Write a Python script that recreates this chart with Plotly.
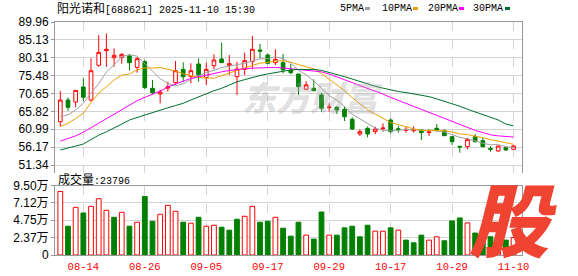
import plotly.graph_objects as go

# ---------------- data ----------------
dates = ["08-11","08-12","08-13","08-14","08-15","08-18","08-19","08-20","08-21","08-22",
         "08-25","08-26","08-27","08-28","08-29","09-01","09-02","09-03","09-04","09-05",
         "09-08","09-09","09-10","09-11","09-12","09-15","09-16","09-17","09-18","09-19",
         "09-22","09-23","09-24","09-25","09-26","09-29","09-30","10-09","10-10","10-13",
         "10-14","10-15","10-16","10-17","10-20","10-21","10-22","10-23","10-24","10-27",
         "10-28","10-29","10-30","10-31","11-03","11-04","11-05","11-06","11-07","11-10"]

opens = [63.03, 68.89, 68.35, 72.41, 68.89, 78.26, 82.20, 80.30, 80.43, 80.78,
         77.72, 79.24, 72.05, 70.52, 72.10, 73.57, 77.17, 75.19, 78.62, 75.00,
         78.16, 79.97, 78.26, 75.19, 77.17, 79.24, 82.40, 81.05, 78.98, 78.98,
         77.00, 75.92, 71.80, 72.05, 70.25, 66.80, 66.92, 66.38, 63.68, 59.71,
         61.25, 60.34, 61.20, 63.49, 61.10, 60.70, 60.60, 60.80, 60.10, 61.25,
         60.61, 59.00, 56.40, 56.29, 59.00, 57.91, 55.80, 55.12, 56.02, 55.57]
highs = [71.32, 69.62, 71.50, 74.75, 80.16, 86.45, 86.90, 82.86, 81.50, 81.32,
         80.43, 79.70, 74.30, 71.60, 73.84, 79.43, 79.07, 78.80, 80.16, 78.98,
         81.23, 84.37, 81.05, 79.24, 81.67, 86.18, 84.02, 81.50, 82.59, 81.32,
         78.62, 75.92, 74.00, 74.48, 70.87, 68.00, 67.28, 67.10, 64.20, 60.98,
         61.69, 61.69, 62.60, 63.95, 61.96, 61.69, 61.80, 60.80, 60.98, 62.41,
         60.98, 59.00, 56.47, 58.72, 59.71, 58.72, 56.47, 56.47, 56.29, 56.74]
lows = [61.69, 66.00, 66.92, 68.62, 68.44, 77.89, 77.89, 77.89, 78.70, 76.81,
        76.27, 71.78, 70.52, 68.00, 71.14, 72.95, 73.76, 73.40, 73.84, 72.95,
        77.17, 78.98, 75.65, 70.25, 75.65, 77.17, 80.16, 78.53, 78.35, 76.10,
        75.83, 70.25, 71.80, 71.41, 65.74, 65.74, 65.11, 63.22, 60.80, 59.17,
        58.82, 59.71, 60.34, 59.90, 60.07, 60.07, 60.10, 58.09, 59.17, 60.34,
        59.26, 56.74, 54.67, 55.57, 57.37, 56.11, 54.94, 54.94, 55.21, 55.57]
closes = [68.89, 66.92, 71.50, 69.62, 76.81, 81.77, 82.60, 80.96, 81.23, 78.98,
          80.05, 72.23, 70.87, 71.05, 72.50, 76.81, 75.19, 76.81, 75.65, 77.17,
          79.70, 78.98, 78.70, 77.27, 79.51, 82.59, 82.10, 78.80, 79.88, 77.00,
          76.27, 72.50, 73.00, 71.41, 66.65, 67.00, 66.20, 64.38, 61.06, 60.34,
          59.71, 61.06, 61.30, 60.34, 61.00, 60.95, 60.85, 60.10, 60.25, 60.80,
          59.26, 57.64, 56.20, 58.27, 57.64, 56.29, 55.60, 56.47, 55.39, 56.47]
volumes = [86850, 39350, 65140, 57430, 66500, 76900, 61070, 51570, 58350, 39350,
           44780, 80060, 46140, 55640, 67850, 59710, 44780, 43420, 51570, 39350,
           40710, 38000, 33930, 48850, 52920, 66500, 44780, 46140, 51570, 36640,
           25780, 44780, 27140, 21710, 58800, 27140, 27140, 37100, 39350, 24880,
           40710, 32570, 32570, 37100, 33930, 20360, 16700, 27140, 20360, 24880,
           19450, 46600, 50660, 43860, 30000, 24880, 24880, 22000, 20360, 23796]

ma5 = [64.40, 64.90, 66.20, 68.00, 70.75, 73.32, 76.46, 78.35, 80.67, 81.11,
       80.76, 78.69, 76.67, 74.64, 73.34, 72.69, 73.28, 74.47, 75.39, 76.33,
       76.90, 77.66, 78.04, 78.36, 78.83, 79.41, 80.03, 80.05, 80.58, 80.07,
       78.81, 76.89, 75.73, 74.04, 71.97, 70.11, 68.85, 67.13, 65.06, 63.80,
       62.34, 61.31, 60.69, 60.55, 60.68, 60.93, 60.89, 60.65, 60.63, 60.59,
       60.25, 59.61, 58.83, 58.43, 57.80, 57.21, 56.80, 56.85, 56.28, 56.04]
ma10 = [61.70, 62.60, 63.90, 65.30, 68.20, 70.70, 72.50, 74.30, 75.60, 75.93,
        77.04, 77.58, 77.51, 77.66, 77.22, 76.73, 75.99, 75.57, 75.01, 74.83,
        74.80, 75.47, 76.26, 76.88, 77.58, 78.16, 78.85, 79.05, 79.47, 79.45,
        79.11, 78.46, 77.89, 77.31, 76.02, 74.46, 72.87, 71.43, 69.55, 67.88,
        66.23, 65.08, 63.91, 62.80, 62.24, 61.63, 61.10, 60.67, 60.59, 60.64,
        60.59, 60.25, 59.74, 59.53, 59.20, 58.73, 58.21, 57.84, 57.36, 56.92]
ma20 = [57.80, 58.50, 59.20, 60.20, 61.40, 62.60, 63.90, 65.10, 66.40, 67.60,
        68.70, 69.60, 70.40, 71.30, 72.40, 73.30, 74.00, 74.70, 75.20, 75.70,
        76.10, 76.50, 76.85, 77.15, 77.35, 77.50, 77.60, 77.70, 77.70, 77.55,
        77.35, 77.10, 77.00, 76.90, 76.50, 75.90, 75.20, 74.40, 73.60, 72.80,
        72.10, 71.30, 70.50, 69.60, 68.80, 68.00, 67.20, 66.20, 65.50, 64.80,
        63.80, 63.00, 62.30, 61.40, 60.70, 60.10, 59.50, 59.20, 59.00, 58.90]
ma30 = [55.40, 55.90, 56.40, 57.00, 58.20, 59.40, 60.30, 61.25, 62.40, 63.50,
        64.20, 64.85, 65.50, 66.20, 66.80, 67.40, 68.00, 68.90, 69.80, 70.70,
        71.40, 72.05, 72.90, 73.80, 74.40, 75.00, 75.50, 75.95, 76.35, 76.75,
        77.00, 77.15, 77.20, 77.15, 76.90, 76.40, 75.80, 75.20, 74.56, 73.87,
        73.18, 72.60, 72.10, 71.60, 71.20, 70.90, 70.60, 70.20, 69.80, 69.20,
        68.60, 67.90, 67.20, 66.40, 65.70, 64.90, 64.30, 63.50, 62.40, 61.90]

price_ticks = [51.34, 56.17, 60.99, 65.82, 70.65, 75.48, 80.31, 85.13, 89.96]
vol_ticks = [0, 23750, 47500, 71250, 95000]
vol_tick_text = ["0", "2.37万", "4.75万", "7.12万", "9.50万"]
x_labels = ["08-14", "08-26", "09-05", "09-17", "09-29", "10-17", "10-29", "11-10"]
stock_title = "阳光诺和"
stock_rest = "[688621] 2025-11-10 15:30"
ma_names = ["5PMA", "10PMA", "20PMA", "30PMA"]

# ---------------- styles ----------------
RED = "#ff0000"
GREEN = "#008000"
MA_COLORS = ["#a0a0a0", "#f0a000", "#ff00ff", "#00702e"]
GRID = "#d4d4d4"
BORDER = "#999999"

# page geometry (pixels) used for layout placement only
W, H = 578, 276
L, R, T, B = 55, 56, 22, 21
PW, PH = W - L - R, H - T - B


def px(xp):
    return (xp - L) / PW


def py(yp):
    return (H - B - yp) / PH


# volume colours: up vs previous close
up = []
for i, c in enumerate(closes):
    ref = closes[i - 1] if i > 0 else opens[0]
    up.append(c >= ref)
vol_fill = ["#ffffff" if u else GREEN for u in up]
vol_line = [RED if u else GREEN for u in up]

fig = go.Figure()

fig.add_trace(go.Candlestick(
    x=dates, open=opens, high=highs, low=lows, close=closes,
    increasing=dict(line=dict(color=RED, width=1), fillcolor="#ffffff"),
    decreasing=dict(line=dict(color=GREEN, width=1), fillcolor=GREEN),
    whiskerwidth=0, xaxis="x", yaxis="y", hoverinfo="skip", showlegend=False))

for name, vals, col in zip(ma_names, [ma5, ma10, ma20, ma30], MA_COLORS):
    fig.add_trace(go.Scatter(x=dates, y=vals, mode="lines", name=name,
                             line=dict(color=col, width=1), xaxis="x", yaxis="y",
                             hoverinfo="skip", showlegend=False))

fig.add_trace(go.Bar(x=dates, y=volumes, width=0.62,
                     marker=dict(color=vol_fill, line=dict(color=vol_line, width=1)),
                     xaxis="x2", yaxis="y2", hoverinfo="skip", showlegend=False))

xr = [-0.69, 60.1]
common_x = dict(type="category", categoryorder="array", categoryarray=dates, range=xr,
                tickmode="array", tickvals=x_labels, showgrid=True, gridcolor=GRID,
                griddash="dash", gridwidth=1, ticks="", zeroline=False,
                fixedrange=True, automargin=False)

tick_font = dict(family="Liberation Sans, Noto Sans CJK SC", size=12, color="#000000")

fig.update_layout(
    width=W, height=H, margin=dict(l=L, r=R, t=T, b=B, pad=0, autoexpand=False),
    plot_bgcolor="#ffffff", paper_bgcolor="#ffffff", showlegend=False,
    barmode="overlay", boxgap=0.32,
    xaxis=dict(common_x, domain=[0, 1], anchor="y", side="top", showticklabels=False,
               showline=True, linecolor=BORDER, linewidth=1, mirror=False,
               rangeslider=dict(visible=False)),
    yaxis=dict(domain=[py(173), 1], range=[49.18, 89.96], tickmode="array",
               tickvals=price_ticks, ticktext=["%.2f" % v for v in price_ticks],
               showgrid=True, gridcolor=GRID, gridwidth=1, zeroline=False,
               showline=True, mirror=True, linecolor=BORDER, linewidth=1,
               ticks="outside", ticklen=3, tickcolor=BORDER, tickfont=tick_font,
               ticklabelstandoff=0, automargin=False),
    xaxis2=dict(common_x, domain=[0, 1], anchor="y2", showticklabels=True,
                tickfont=dict(family="Liberation Mono", size=10.5, color=RED),
                showline=True, linecolor=BORDER, linewidth=1, mirror=True,
                ticklabelstandoff=1),
    yaxis2=dict(domain=[0, py(185.5)], range=[0, 95000], tickmode="array",
                tickvals=vol_ticks, ticktext=vol_tick_text, showgrid=True,
                gridcolor=GRID, gridwidth=1, zeroline=False, showline=True,
                mirror=True, linecolor=BORDER, linewidth=1, ticks="outside",
                ticklen=3, tickcolor=BORDER, tickfont=tick_font, ticklabelstandoff=0,
                automargin=False),
)

ann = []
# header
ann.append(dict(xref="paper", yref="paper", x=px(55), y=py(8), xanchor="left",
                yanchor="middle", showarrow=False,
                text='<span style="font-family:Noto Sans CJK SC;font-size:12px">'
                     + stock_title + '</span>' + stock_rest,
                font=dict(family="Liberation Mono", size=10, color="#000000")))
# legend texts
leg_x = [337.5, 379.5, 425.5, 471]
leg_box = [365, 413, 459, 505]
for name, lx in zip(ma_names, leg_x):
    ann.append(dict(xref="paper", yref="paper", x=px(lx), y=py(8.5), xanchor="left",
                    yanchor="middle", showarrow=False, text=name,
                    font=dict(family="Liberation Mono", size=10, color="#000000")))
# volume header
ann.append(dict(xref="paper", yref="paper", x=px(56), y=py(178), xanchor="left",
                yanchor="middle", showarrow=False,
                text='<span style="font-family:Noto Sans CJK SC;font-size:12px">成交量</span>:'
                     + str(volumes[-1]),
                font=dict(family="Liberation Mono", size=10, color="#000000")))
# watermark
ann.append(dict(xref="paper", yref="paper", x=px(312), y=py(96), xanchor="center",
                yanchor="middle", showarrow=False, text="东方财富",
                font=dict(family="Noto Sans CJK SC", size=34, color="rgba(160,160,160,0.32)",
                          weight=900, style="italic")))
# corner logo
ann.append(dict(xref="paper", yref="paper", x=px(513), y=py(216), xanchor="center",
                yanchor="middle", showarrow=False, text="股",
                font=dict(family="Noto Sans CJK SC", size=80, color="#ee4431",
                          weight=900, style="italic")))
fig.update_layout(annotations=ann)

shapes = []
for bx, col in zip(leg_box, MA_COLORS):
    shapes.append(dict(type="rect", xref="paper", yref="paper", x0=px(bx), x1=px(bx + 5),
                       y0=py(10), y1=py(7), fillcolor=col, line=dict(width=0)))
fig.update_layout(shapes=shapes)

fig.write_html("out.html")
